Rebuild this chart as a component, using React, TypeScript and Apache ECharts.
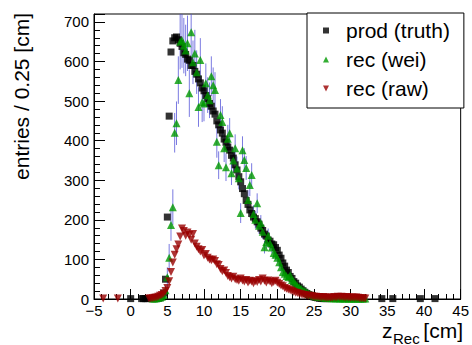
import React, { useEffect, useRef } from "react";
import * as echarts from "echarts";

const BIN_WIDTH = 0.25;

// prod (truth): consecutive 0.25 cm bins starting at truthStart (null = empty bin)
const truthStart = 1.5;
const truthValues: (number | null)[] = [
  1, 1, 1, 1, null, null,
  1, 1, 1, 2, // 3
  3, 6, 15, 50, // 4
  207, 462, 624, 652, // 5
  660, 662, 655, 646, // 6
  638, 622, 618, 606, // 7
  603, 590, 590, 575, // 8
  568, 556, 546, 533, // 9
  526, 514, 506, 494, // 10
  487, 475, 467, 450, // 11
  440, 427, 419, 404, // 12
  396, 384, 376, 363, // 13
  356, 339, 326, 309, // 14
  296, 279, 266, 249, // 15
  239, 225, 216, 207, // 16
  203, 195, 189, 179, // 17
  173, 164, 159, 149, // 18
  146, 139, 137, 130, // 19
  123, 111, 103, 91, // 20
  83, 73, 67, 57, // 21
  52, 44, 40, 33, // 22
  30, 25, 21, 17, // 23
  14, 11, 9, 7, // 24
  5, 4, 3, 2, // 25
  2, 1, 1, 1, // 26
];
const truthExtraX = [0, 34.25, 35.75, 39.5, 41.5];
const truthExtraY = [1, 1, 1, 1, 1];

// rec (wei): bins starting at weiStart, with their errors
const weiStart = 3.0;
const weiValues: number[] = [
  1, 1, 2, 3, // 3
  4, 6, 10, 22, // 4
  55, 104, 187, 232, // 5
  420, 444, 553, 650, // 6
  654, 640, 628, 646, // 7
  520, 674, 598, 620, // 8
  573, 485, 604, 497, // 9
  494, 545, 515, 502, // 10
  563, 540, 528, 397, // 11
  338, 465, 447, 381, // 12
  333, 405, 419, 318, // 13
  350, 381, 330, 305, // 14
  217, 376, 351, 331, // 15
  250, 288, 313, 215, // 16
  200, 242, 185, 192, // 17
  170, 131, 144, 160, // 18
  141, 130, 116, 112, // 19
  104, 93, 80, 68, // 20
  64, 58, 55, 60, // 21
  48, 44, 38, 33, // 22
  30, 26, 22, 20, // 23
  17, 14, 12, 10, // 24
  8, 7, 6, 5, // 25
  5, 4, 3, 3, // 26
  3, 2, 2, 2, // 27
  2, 2, 1, 2, // 28
  1, 1, 2, 1, // 29
  1, 1, 1, 1, // 30
  1, 1, 1, 1, // 31
  1, // 32
];
const weiErrors: number[] = [
  2, 2, 3, 4, // 3
  5, 6, 8, 12, // 4
  25, 35, 40, 45, // 5
  50, 55, 60, 70, // 6
  70, 70, 65, 70, // 7
  60, 70, 55, 60, // 8
  55, 50, 55, 50, // 9
  45, 50, 45, 45, // 10
  50, 45, 45, 40, // 11
  35, 40, 40, 35, // 12
  35, 35, 38, 30, // 13
  32, 35, 30, 28, // 14
  25, 35, 30, 30, // 15
  25, 28, 30, 22, // 16
  22, 25, 20, 20, // 17
  18, 16, 16, 18, // 18
  16, 15, 14, 13, // 19
  12, 12, 10, 10, // 20
  9, 8, 8, 8, // 21
  7, 6, 6, 5, // 22
  5, 5, 4, 4, // 23
  4, 3, 3, 3, // 24
  3, 2, 2, 2, // 25
  2, 2, 2, 2, // 26
  1, 1, 1, 1, // 27
  1, 1, 1, 1, // 28
  1, 1, 1, 1, // 29
  1, 1, 1, 1, // 30
  1, 1, 1, 1, // 31
  1, // 32
];

// rec (raw)
const rawStart = 2.5;
const rawValues: number[] = [
  1, 1, // 2.5
  2, 3, 4, 6, // 3
  8, 10, 14, 20, // 4
  28, 45, 68, 92, // 5
  112, 126, 138, 158, // 6
  178, 172, 160, 168, // 7
  162, 150, 164, 140, // 8
  132, 126, 120, 124, // 9
  110, 114, 104, 100, // 10
  98, 100, 96, 88, // 11
  86, 76, 70, 72, // 12
  66, 58, 55, 52, // 13
  56, 50, 48, 46, // 14
  52, 47, 44, 48, // 15
  42, 46, 44, 40, // 16
  45, 43, 48, 44, // 17
  52, 46, 42, 47, // 18
  44, 40, 43, 46, // 19
  41, 38, 34, 32, // 20
  28, 26, 24, 22, // 21
  20, 18, 16, 15, // 22
  13, 12, 11, 10, // 23
  9, 8, 8, 7, // 24
  6, 6, 5, 5, // 25
  4, 5, 4, 3, // 26
  4, 3, 3, 5, // 27
  4, 6, 5, 6, // 28
  5, 4, 5, 4, // 29
  3, 4, 3, 4, // 30
  3, 2, 2, 2, // 31
  1, // 32
];
const rawExtraX = [-3.75, -1.75];
const rawExtraY = [1, 1];

const FONT = '"Liberation Sans", Arial, Helvetica, sans-serif';

function binPoints(start: number, values: (number | null)[]): number[][] {
  const out: number[][] = [];
  values.forEach((v, i) => {
    if (v !== null) out.push([start + i * BIN_WIDTH, v]);
  });
  return out;
}

export default function App() {
  const ref = useRef<HTMLDivElement>(null);
  useEffect(() => {
    document.body.style.margin = "0";
    if (!ref.current) return;
    const chart = echarts.init(ref.current, undefined, { renderer: "svg" });

    const truthData = [
      ...truthExtraX.slice(0, 1).map((x, i) => [x, truthExtraY[i]]),
      ...binPoints(truthStart, truthValues),
      ...truthExtraX.slice(1).map((x, i) => [x, truthExtraY[i + 1]]),
    ];
    const weiData = binPoints(weiStart, weiValues);
    const weiErrData = weiValues.map((v, i) => [
      weiStart + i * BIN_WIDTH,
      Math.max(0, v - weiErrors[i]),
      v + weiErrors[i],
    ]);
    const rawData = [
      ...rawExtraX.map((x, i) => [x, rawExtraY[i]]),
      ...binPoints(rawStart, rawValues),
    ];

    chart.setOption({
      animation: false,
      backgroundColor: "#fff",
      grid: {
        left: 94,
        right: 9,
        top: 14,
        bottom: 46,
        show: true,
        borderColor: "#000",
        borderWidth: 1,
        backgroundColor: "transparent",
      },
      xAxis: {
        type: "value",
        min: -5,
        max: 45,
        interval: 5,
        axisLine: { show: true, onZero: false, lineStyle: { color: "#000", width: 1 } },
        axisTick: { show: true, inside: true, length: 10, lineStyle: { color: "#000" } },
        minorTick: { show: true, splitNumber: 5, length: 5, lineStyle: { color: "#000" } },
        splitLine: { show: false },
        axisLabel: {
          fontFamily: FONT,
          fontSize: 15,
          lineHeight: 14,
          color: "#000",
          margin: 4,
          formatter: (v: number) => String(v).replace("-", "\u2212"),
        },
      },
      yAxis: {
        type: "value",
        min: 0,
        max: 720,
        interval: 100,
        axisLine: { show: true, onZero: false, lineStyle: { color: "#000", width: 1 } },
        axisTick: { show: true, inside: true, length: 11, lineStyle: { color: "#000" } },
        minorTick: { show: true, splitNumber: 5, length: 6, lineStyle: { color: "#000" } },
        splitLine: { show: false },
        axisLabel: {
          fontFamily: FONT,
          fontSize: 15,
          lineHeight: 8,
          color: "#000",
          margin: 5,
          showMaxLabel: false,
        },
      },
      legend: {
        orient: "vertical",
        left: 307,
        top: 13,
        data: ["prod (truth)", "rec (wei)", "rec (raw)"],
        itemWidth: 6,
        itemHeight: 6,
        itemGap: 8,
        padding: [7, 14, 9, 16],
        borderColor: "#000",
        borderWidth: 1,
        borderRadius: 0,
        backgroundColor: "#fff",
        selectedMode: false,
        textStyle: {
          fontFamily: FONT,
          fontSize: 21,
          lineHeight: 21,
          color: "#000",
          padding: [0, 0, 0, 12],
        },
      },
      series: [
        {
          name: "prod (truth)",
          type: "scatter",
          symbol: "rect",
          symbolSize: 7,
          itemStyle: { color: "#000" },
          data: truthData,
        },
        {
          type: "custom",
          clip: true,
          encode: { x: 0, y: [1, 2] },
          renderItem: (params: any, api: any) => {
            const x = api.value(0);
            const lo = api.coord([x, api.value(1)]);
            const hi = api.coord([x, api.value(2)]);
            return {
              type: "line",
              shape: { x1: lo[0], y1: lo[1], x2: hi[0], y2: hi[1] },
              style: { stroke: "#4d4dd6", lineWidth: 1, opacity: 0.75 },
            };
          },
          data: weiErrData,
        },
        {
          name: "rec (wei)",
          type: "scatter",
          symbol: "triangle",
          symbolSize: 8,
          itemStyle: { color: "#009a00" },
          data: weiData,
        },
        {
          name: "rec (raw)",
          type: "scatter",
          symbol: "path://M0,0L10,0L5,10Z",
          symbolSize: 8,
          itemStyle: { color: "#990000" },
          data: rawData,
        },
      ],
      graphic: [
        {
          type: "text",
          x: 21,
          y: 13,
          rotation: Math.PI / 2,
          style: {
            text: "entries / 0.25 [cm]",
            fontFamily: FONT,
            fontSize: 21,
            lineHeight: 21,
            fill: "#000",
            align: "right",
            verticalAlign: "middle",
          },
        },
        {
          type: "text",
          x: 382,
          y: 330,
          style: {
            text: "z",
            fontFamily: FONT,
            fontSize: 21,
            lineHeight: 16,
            fill: "#000",
            align: "left",
            verticalAlign: "middle",
          },
        },
        {
          type: "text",
          x: 393,
          y: 338,
          style: {
            text: "Rec",
            fontFamily: FONT,
            fontSize: 15,
            lineHeight: 12,
            fill: "#000",
            align: "left",
            verticalAlign: "middle",
          },
        },
        {
          type: "text",
          x: 463,
          y: 330,
          style: {
            text: "[cm]",
            fontFamily: FONT,
            fontSize: 21,
            lineHeight: 16,
            fill: "#000",
            align: "right",
            verticalAlign: "middle",
          },
        },
      ],
    });
    return () => chart.dispose();
  }, []);
  return (
    <div
      ref={ref}
      style={{ position: "fixed", left: 0, top: 0, width: 472, height: 345, background: "#fff" }}
    />
  );
}
